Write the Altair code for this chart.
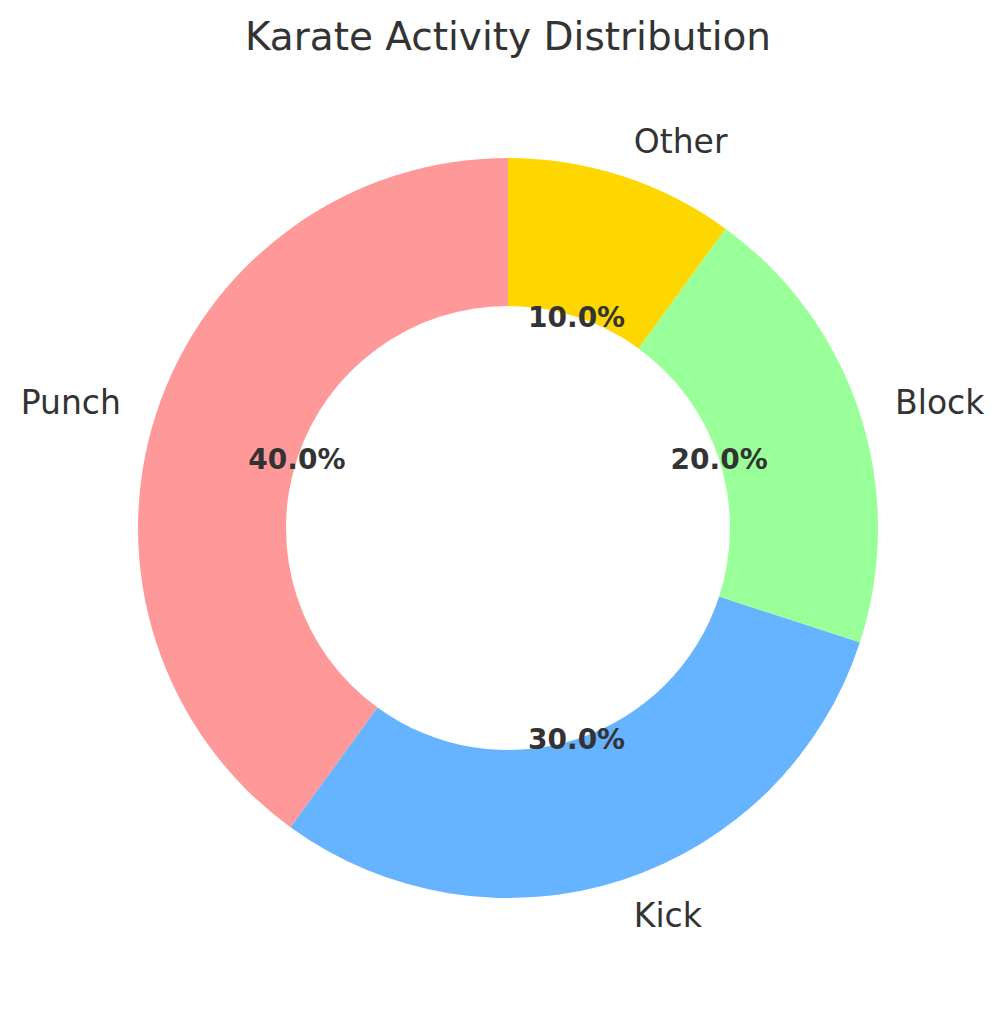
import math
import altair as alt
import pandas as pd

categories = ["Punch", "Kick", "Block", "Other"]
values = [40, 30, 20, 10]
# draw order clockwise from 12 o'clock (matplotlib goes counter-clockwise from the top)
draw_order = [4, 3, 2, 1]
colors = ["#ff9999", "#66b3ff", "#99ff99", "#ffd700"]

df = pd.DataFrame({"category": categories, "value": values, "ord": draw_order})

theta_scale = alt.Scale(domain=[0, 100], range=[0, 2 * math.pi])
color_scale = alt.Scale(domain=categories, range=colors)

base = (
    alt.Chart(df)
    .transform_joinaggregate(total="sum(value)")
    .transform_window(cum="sum(value)", sort=[alt.SortField("ord")])
    .transform_calculate(
        start="100 * (datum.cum - datum.value) / datum.total",
        end="100 * datum.cum / datum.total",
        mid="100 * (datum.cum - datum.value / 2) / datum.total",
        pct="format(datum.value / datum.total, '.1%')",
    )
)

arcs = base.mark_arc(outerRadius=370, innerRadius=222).encode(
    theta=alt.Theta("start:Q", scale=theta_scale, stack=None),
    theta2="end:Q",
    color=alt.Color("category:N", scale=color_scale, legend=None),
)

label_common = dict(radius=407, fontSize=33, font="DejaVu Sans", color="#333333",
                    baseline="middle", dy=2)

labels_right = base.transform_filter("datum.mid <= 50").mark_text(align="left", **label_common).encode(
    theta=alt.Theta("mid:Q", scale=theta_scale, stack=None),
    text="category:N",
)
labels_left = base.transform_filter("datum.mid > 50").mark_text(align="right", **label_common).encode(
    theta=alt.Theta("mid:Q", scale=theta_scale, stack=None),
    text="category:N",
)

pct_labels = base.mark_text(
    radius=222, fontSize=28, font="DejaVu Sans", fontWeight="bold", color="#333333",
    align="center", baseline="middle", dy=2,
).encode(
    theta=alt.Theta("mid:Q", scale=theta_scale, stack=None),
    text="pct:N",
)

chart = (
    alt.layer(arcs, labels_right, labels_left, pct_labels)
    .properties(
        width=976,
        height=880,
        autosize=alt.AutoSizeParams(type="none"),
        padding={"left": 12, "top": 80, "right": 0, "bottom": 0},
        title=alt.Title(
            "Karate Activity Distribution",
            fontSize=39,
            font="DejaVu Sans",
            fontWeight="normal",
            color="#333333",
            anchor="middle",
            offset=30,
        ),
    )
    .configure_view(stroke=None)
)

chart.save("out.html", embed_options={"renderer": "svg", "actions": False})
